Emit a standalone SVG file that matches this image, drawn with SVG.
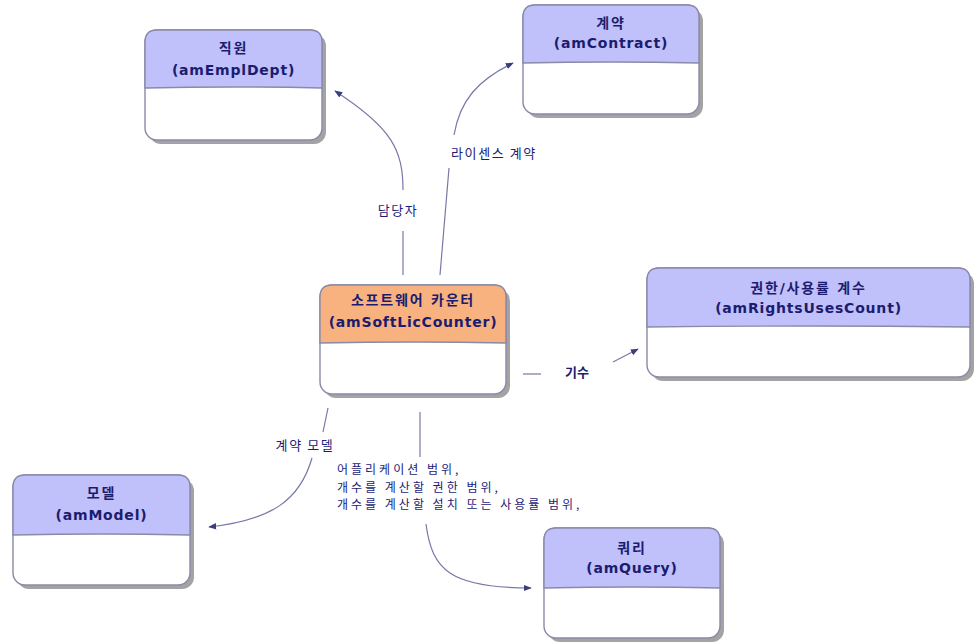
<svg xmlns="http://www.w3.org/2000/svg" width="979" height="642" viewBox="0 0 979 642">
<style>
.shadow{fill:#a3a3a3;}
.body{fill:#ffffff;stroke:#8a8aa8;stroke-width:1.4;}
.hdr{fill:#c0c0fb;stroke:#8a8aa8;stroke-width:1.4;}
.hdr.org{fill:#f8b27f;}
.t{font-family:"DejaVu Sans","Noto Sans CJK KR",sans-serif;font-weight:bold;font-size:14px;fill:#1c1c6e;text-anchor:middle;}
.tk{letter-spacing:1.8px;}
.te{letter-spacing:0.8px;}
.lbl{font-family:"Noto Sans CJK KR","DejaVu Sans",sans-serif;font-size:13px;fill:#1c1c7a;letter-spacing:1.6px;}
.ml{font-size:12px;letter-spacing:3px;}
.c{fill:none;stroke:#7878a8;stroke-width:1.2;}
.a{fill:none;stroke:#7878a8;stroke-width:1.2;marker-end:url(#arr);}
</style>
<defs>
<marker id="arr" viewBox="0 0 10 10" refX="9" refY="5" markerWidth="8" markerHeight="8" markerUnits="userSpaceOnUse" orient="auto">
<path d="M0,1 L10,5 L0,9 Z" fill="#3c3c80"/>
</marker>
</defs>
<rect width="979" height="642" fill="#ffffff"/>

<g id="connectors">
<path class="c" d="M403,275 L403,231"/>
<path class="a" d="M403,190 C403,150 392,128 335,91"/>
<text class="lbl" x="398" y="215" text-anchor="middle">담당자</text>

<path class="c" d="M440,275 L449,168"/>
<path class="a" d="M454,135 C460,100 478,80 513,63"/>
<text class="lbl" x="494" y="158" text-anchor="middle">라이센스 계약</text>

<path class="c" d="M523,374 L541,374"/>
<text class="t" x="577" y="377" style="font-size:13px">기수</text>
<path class="a" d="M613,362 L638,349"/>

<path class="c" d="M328,408 L323,432"/>
<text class="lbl" x="305" y="450" text-anchor="middle">계약 모델</text>
<path class="a" d="M312,458 C300,500 272,520 209,527"/>

<path class="c" d="M420,412 L420,457"/>
<text class="lbl ml" x="337" y="474">어플리케이션 범위,</text>
<text class="lbl ml" x="337" y="491.5">개수를 계산할 권한 범위,</text>
<text class="lbl ml" x="337" y="509">개수를 계산할 설치 또는 사용률 범위,</text>
<path class="a" d="M426,524 C432,570 450,588 531,588"/>
</g>

<g id="node-emp" transform="translate(145,30)">
<rect class="shadow" x="4" y="4" width="177" height="110" rx="12"/>
<rect class="body" x="0" y="0" width="177" height="110" rx="12"/>
<path class="hdr" d="M0,58 V12 Q0,0 12,0 H165 Q177,0 177,12 V58 Q88,56 0,58 Z"/>
<text class="t tk" x="88.5" y="23">직원</text>
<text class="t te" x="88.5" y="45">(amEmplDept)</text>
</g>

<g id="node-contract" transform="translate(523,5)">
<rect class="shadow" x="4" y="4" width="176" height="109" rx="12"/>
<rect class="body" x="0" y="0" width="176" height="109" rx="12"/>
<path class="hdr" d="M0,58 V12 Q0,0 12,0 H164 Q176,0 176,12 V58 Q88,56 0,58 Z"/>
<text class="t tk" x="88" y="23">계약</text>
<text class="t te" x="88" y="43">(amContract)</text>
</g>

<g id="node-softlic" transform="translate(320,285)">
<rect class="shadow" x="4" y="4" width="186" height="109" rx="12"/>
<rect class="body" x="0" y="0" width="186" height="109" rx="12"/>
<path class="hdr org" d="M0,58 V12 Q0,0 12,0 H174 Q186,0 186,12 V58 Q93,56 0,58 Z"/>
<text class="t tk" x="93" y="20">소프트웨어 카운터</text>
<text class="t te" x="93" y="42">(amSoftLicCounter)</text>
</g>

<g id="node-rights" transform="translate(647,268)">
<rect class="shadow" x="4" y="4" width="323" height="109" rx="12"/>
<rect class="body" x="0" y="0" width="323" height="109" rx="12"/>
<path class="hdr" d="M0,59 V12 Q0,0 12,0 H311 Q323,0 323,12 V59 Q161,57 0,59 Z"/>
<text class="t tk" x="161.5" y="25">권한/사용률 계수</text>
<text class="t te" x="161.5" y="45">(amRightsUsesCount)</text>
</g>

<g id="node-model" transform="translate(13,475)">
<rect class="shadow" x="4" y="4" width="177" height="110" rx="12"/>
<rect class="body" x="0" y="0" width="177" height="110" rx="12"/>
<path class="hdr" d="M0,60 V12 Q0,0 12,0 H165 Q177,0 177,12 V60 Q88,58 0,60 Z"/>
<text class="t tk" x="88.5" y="23">모델</text>
<text class="t te" x="88.5" y="45">(amModel)</text>
</g>

<g id="node-query" transform="translate(544,528)">
<rect class="shadow" x="4" y="4" width="176" height="110" rx="12"/>
<rect class="body" x="0" y="0" width="176" height="110" rx="12"/>
<path class="hdr" d="M0,60 V12 Q0,0 12,0 H164 Q176,0 176,12 V60 Q88,58 0,60 Z"/>
<text class="t tk" x="88" y="25">쿼리</text>
<text class="t te" x="88" y="45">(amQuery)</text>
</g>
</svg>
